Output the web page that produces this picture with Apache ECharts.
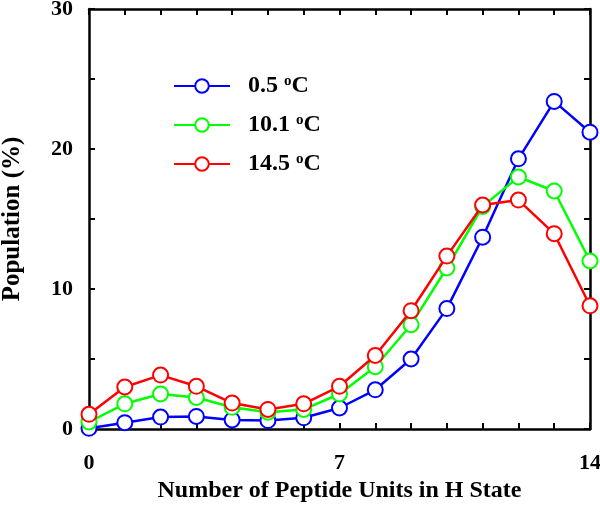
<!DOCTYPE html>
<html>
<head>
<meta charset="utf-8">
<script src="https://cdn.jsdelivr.net/npm/echarts@6/dist/echarts.min.js"></script>
<style>
  html, body { margin: 0; padding: 0; background: #fff; }
  #chart { width: 600px; height: 519px; }
</style>
</head>
<body>
<div id="chart"></div>
<script>
// peptide units in H state, population in percent
const units = [0, 1, 2, 3, 4, 5, 6, 7, 8, 9, 10, 11, 12, 13, 14];
const pop05 = [0.05, 0.45, 0.85, 0.9, 0.65, 0.6, 0.8, 1.5, 2.8, 5.0, 8.6, 13.7, 19.3, 23.4, 21.2];
const pop101 = [0.5, 1.8, 2.5, 2.25, 1.55, 1.2, 1.4, 2.5, 4.45, 7.45, 11.5, 15.9, 18.0, 17.0, 12.0];
const pop145 = [1.05, 3.0, 3.85, 3.05, 1.85, 1.4, 1.8, 3.05, 5.25, 8.45, 12.35, 16.0, 16.35, 13.95, 8.8];
const seriesNames = ['0.5', '10.1', '14.5'];
const seriesColors = ['#0000ff', '#00ff00', '#ff0000'];
const xLabelTicks = [0, 7, 14];
const yLabelTicks = [0, 10, 20, 30];

const FONT = '"Liberation Serif", "Times New Roman", serif';

const chart = echarts.init(document.getElementById('chart'));

function frameAxis(extra) {
  return Object.assign({
    type: 'value',
    axisLine: { show: true, onZero: false, lineStyle: { color: '#000', width: 2.5 } },
    axisTick: { show: true, inside: true, length: 6, lineStyle: { color: '#000', width: 2 } },
    splitLine: { show: false },
  }, extra);
}

const labelStyle = {
  color: '#000', fontFamily: FONT, fontWeight: 'bold', fontSize: 22,
};

const data = [pop05, pop101, pop145];

chart.setOption({
  animation: false,
  grid: { left: 89, right: 10, top: 9, bottom: 90, outerBoundsMode: 'none' },
  legend: {
    orient: 'vertical',
    left: 168,
    top: 69,
    itemWidth: 56,
    itemHeight: 17,
    itemGap: 15,
    data: seriesNames,
    formatter: (n) => '{a|' + n + ' }{s|o}{a|C}',
    textStyle: {
      color: '#000',
      padding: [0, 0, 0, 13],
      rich: {
        a: { fontFamily: FONT, fontWeight: 'bold', fontSize: 24, color: '#000', lineHeight: 24 },
        s: { fontFamily: FONT, fontWeight: 'bold', fontSize: 15, color: '#000', lineHeight: 12, verticalAlign: 'top' },
      },
    },
  },
  xAxis: [
    frameAxis({
      min: 0, max: 14, interval: 1,
      name: 'Number of Peptide Units in H State',
      nameLocation: 'middle',
      nameGap: 48,
      nameTextStyle: { color: '#000', fontFamily: FONT, fontWeight: 'bold', fontSize: 24 },
      axisLabel: Object.assign({
        margin: 23,
        formatter: (v) => (xLabelTicks.includes(v) ? String(v) : ''),
      }, labelStyle),
    }),
    frameAxis({ position: 'top', min: 0, max: 14, interval: 1, axisLabel: { show: false } }),
  ],
  yAxis: [
    frameAxis({
      min: 0, max: 30, interval: 5,
      name: 'Population (%)',
      nameLocation: 'middle',
      nameGap: 64,
      nameTextStyle: { color: '#000', fontFamily: FONT, fontWeight: 'bold', fontSize: 25 },
      axisLabel: Object.assign({
        margin: 16,
        formatter: (v) => (yLabelTicks.includes(v) ? String(v) : ''),
      }, labelStyle),
    }),
    frameAxis({ position: 'right', min: 0, max: 30, interval: 5, axisLabel: { show: false } }),
  ],
  series: seriesNames.map((name, i) => ({
    name: name,
    type: 'line',
    data: units.map((u, j) => [u, data[i][j]]),
    symbol: 'emptyCircle',
    symbolSize: 15,
    showAllSymbol: true,
    color: seriesColors[i],
    lineStyle: { width: 2.5, color: seriesColors[i] },
    itemStyle: { borderWidth: 2.5, borderColor: seriesColors[i] },
    clip: false,
    z: 2 + i,
  })),
});
</script>
</body>
</html>
